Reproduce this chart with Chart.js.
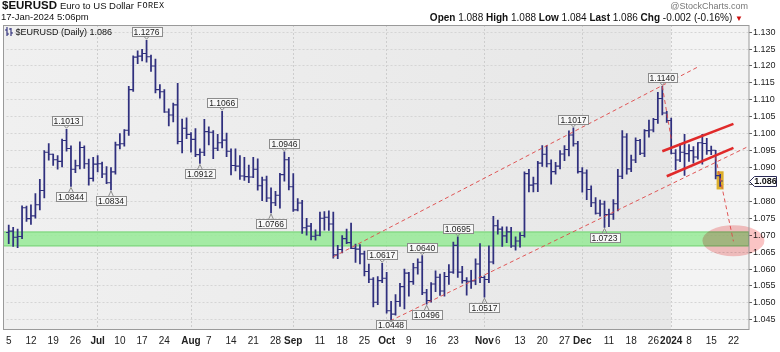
<!DOCTYPE html>
<html>
<head>
<meta charset="utf-8">
<title>$EURUSD</title>
<script src="https://cdn.jsdelivr.net/npm/chart.js@4.4.1/dist/chart.umd.min.js"></script>
<style>
  html, body { margin: 0; padding: 0; background: #fff; }
  #wrap { position: relative; width: 780px; height: 352px; overflow: hidden; font-family: 'Liberation Sans', Arial, sans-serif; color: #111; }
  #chart { position: absolute; left: 0; top: 0; }
  .txt { position: absolute; white-space: nowrap; line-height: 1; }
  .txt b { font-weight: bold; }
</style>
</head>
<body>
<div id="wrap">
  <canvas id="chart" width="780" height="352"></canvas>
  <div class="txt" style="left:2px;top:0px;font-size:11.5px;font-weight:bold;">$EURUSD</div>
  <div class="txt" style="left:60px;top:1px;font-size:9.5px;">Euro to US Dollar</div>
  <div class="txt" style="left:137px;top:2px;font-size:8.5px;font-family:'Liberation Mono',monospace;letter-spacing:0.4px;">FOREX</div>
  <div class="txt" style="left:1px;top:12px;font-size:9.5px;">17-Jan-2024 5:06pm</div>
  <div class="txt" style="right:32px;top:2px;font-size:9px;color:#777;">@StockCharts.com</div>
  <div class="txt" style="right:37px;top:13px;font-size:10px;"><b>Open</b> 1.088 <b>High</b> 1.088 <b>Low</b> 1.084 <b>Last</b> 1.086 <b>Chg</b> -0.002 (-0.16%) <span style="color:#cc1111;font-size:8px;">&#9660;</span></div>
  <div class="txt" style="left:5px;top:27px;font-size:9px;"><svg width="8" height="9" style="vertical-align:-1px"><path d="M2 0v9M0 3h2M2 7h2M6 1v8M4 2h2M6 6h2" stroke="#2a2a78" stroke-width="1.1" fill="none"/></svg> $EURUSD (Daily) 1.086</div>
</div>
<script>
// trading days shown on the axis (Jun 5 2023 .. Jan 25 2024)
const dates = [
  '6/5','6/6','6/7','6/8','6/9','6/12','6/13','6/14','6/15','6/16','6/19','6/20','6/21','6/22','6/23','6/26','6/27','6/28','6/29','6/30',
  '7/3','7/4','7/5','7/6','7/7','7/10','7/11','7/12','7/13','7/14','7/17','7/18','7/19','7/20','7/21','7/24','7/25','7/26','7/27','7/28','7/31',
  '8/1','8/2','8/3','8/4','8/7','8/8','8/9','8/10','8/11','8/14','8/15','8/16','8/17','8/18','8/21','8/22','8/23','8/24','8/25','8/28','8/29','8/30','8/31',
  '9/1','9/4','9/5','9/6','9/7','9/8','9/11','9/12','9/13','9/14','9/15','9/18','9/19','9/20','9/21','9/22','9/25','9/26','9/27','9/28','9/29',
  '10/2','10/3','10/4','10/5','10/6','10/9','10/10','10/11','10/12','10/13','10/16','10/17','10/18','10/19','10/20','10/23','10/24','10/25','10/26','10/27','10/30','10/31',
  '11/1','11/2','11/3','11/6','11/7','11/8','11/9','11/10','11/13','11/14','11/15','11/16','11/17','11/20','11/21','11/22','11/23','11/24','11/27','11/28','11/29','11/30',
  '12/1','12/4','12/5','12/6','12/7','12/8','12/11','12/12','12/13','12/14','12/15','12/18','12/19','12/20','12/21','12/22','12/26','12/27','12/28','12/29',
  '1/2','1/3','1/4','1/5','1/8','1/9','1/10','1/11','1/12','1/15','1/16','1/17','1/18','1/19','1/22','1/23','1/24','1/25'
];

const openP = [
  1.0708,1.0712,1.0694,1.0696,1.0781,1.0749,1.0757,1.0790,1.0832,1.0945,1.0939,1.0923,1.0918,1.0980,1.0956,1.0895,1.0905,1.0959,1.0911,1.0868,
  1.0910,1.0911,1.0881,1.0855,1.0887,1.0967,1.0970,1.1010,1.1130,1.1226,1.1229,1.1237,1.1227,1.1200,1.1130,1.1124,1.1064,1.1055,1.1085,1.0977,1.1016,
  1.0998,1.0983,1.0938,1.0945,1.1006,1.1004,1.0957,1.0973,1.0981,1.0948,1.0906,1.0904,1.0875,1.0873,1.0872,1.0895,1.0846,1.0863,1.0810,1.0796,1.0818,1.0879,1.0923,
  1.0843,1.0775,1.0795,1.0722,1.0727,1.0697,1.0700,1.0750,1.0753,1.0733,1.0642,1.0658,1.0690,1.0678,1.0661,1.0659,1.0645,1.0593,1.0570,1.0502,1.0566,
  1.0573,1.0477,1.0467,1.0504,1.0548,1.0588,1.0563,1.0604,1.0620,1.0530,1.0507,1.0556,1.0576,1.0535,1.0578,1.0591,1.0670,1.0591,1.0566,1.0564,1.0565,1.0615,
  1.0575,1.0569,1.0621,1.0728,1.0718,1.0698,1.0710,1.0668,1.0683,1.0699,1.0882,1.0848,1.0852,1.0913,1.0939,1.0911,1.0888,1.0904,1.0940,1.0953,1.0996,1.0970,
  1.0888,1.0884,1.0835,1.0796,1.0765,1.0792,1.0761,1.0762,1.0793,1.0874,1.0990,1.0896,1.0922,1.0980,1.0942,1.1009,1.1011,1.1042,1.1104,1.1061,
  1.1039,1.0942,1.0922,1.0945,1.0941,1.0950,1.0931,1.0973,1.0971,1.0950,1.0951,1.0876
];
const highP = [
  1.0730,1.0723,1.0718,1.0787,1.0786,1.0790,1.0823,1.0865,1.0950,1.0971,1.0940,1.0935,1.0984,1.1013,1.0964,1.0922,1.0976,1.0964,1.0925,1.0930,
  1.0935,1.0916,1.0903,1.0900,1.0975,1.1000,1.1012,1.1140,1.1230,1.1245,1.1249,1.1276,1.1232,1.1220,1.1145,1.1130,1.1073,1.1090,1.1149,1.1043,1.1047,
  1.1003,1.1015,1.0955,1.1042,1.1020,1.1009,1.0998,1.1066,1.1002,1.0955,1.0955,1.0935,1.0930,1.0907,1.0930,1.0926,1.0872,1.0875,1.0840,1.0830,1.0883,1.0946,1.0930,
  1.0882,1.0808,1.0803,1.0750,1.0735,1.0716,1.0768,1.0770,1.0772,1.0768,1.0670,1.0699,1.0718,1.0736,1.0674,1.0672,1.0653,1.0615,1.0575,1.0578,1.0617,
  1.0590,1.0505,1.0525,1.0558,1.0600,1.0590,1.0617,1.0630,1.0640,1.0540,1.0560,1.0595,1.0585,1.0590,1.0613,1.0680,1.0695,1.0608,1.0575,1.0596,1.0630,1.0675,
  1.0580,1.0669,1.0756,1.0745,1.0725,1.0725,1.0723,1.0695,1.0708,1.0887,1.0895,1.0872,1.0918,1.0965,1.0965,1.0923,1.0915,1.0950,1.0965,1.1008,1.1017,1.0977,
  1.0900,1.0893,1.0846,1.0811,1.0804,1.0801,1.0777,1.0805,1.0895,1.1009,1.1000,1.0937,1.0988,1.0983,1.1012,1.1040,1.1045,1.1122,1.1140,1.1066,
  1.1046,1.0953,1.0970,1.0998,1.0968,1.0962,1.0974,1.0998,1.0986,1.0963,1.0951,1.0880
];
const lowP = [
  1.0675,1.0667,1.0663,1.0690,1.0741,1.0732,1.0750,1.0775,1.0810,1.0922,1.0906,1.0895,1.0902,1.0948,1.0844,1.0885,1.0896,1.0897,1.0848,1.0860,
  1.0887,1.0870,1.0852,1.0834,1.0880,1.0955,1.0963,1.0995,1.1125,1.1207,1.1215,1.1211,1.1184,1.1120,1.1105,1.1063,1.1023,1.1035,1.0970,1.0943,1.0985,
  1.0945,1.0932,1.0912,1.0935,1.0967,1.0926,1.0950,1.0958,1.0932,1.0878,1.0890,1.0865,1.0862,1.0855,1.0870,1.0833,1.0802,1.0799,1.0766,1.0787,1.0780,1.0860,1.0834,
  1.0770,1.0772,1.0705,1.0700,1.0686,1.0685,1.0698,1.0715,1.0714,1.0632,1.0631,1.0648,1.0675,1.0660,1.0620,1.0615,1.0580,1.0560,1.0488,1.0495,1.0560,
  1.0470,1.0448,1.0464,1.0490,1.0482,1.0520,1.0555,1.0585,1.0524,1.0496,1.0502,1.0533,1.0522,1.0520,1.0555,1.0587,1.0575,1.0558,1.0523,1.0543,1.0554,1.0560,
  1.0517,1.0560,1.0615,1.0703,1.0667,1.0678,1.0664,1.0656,1.0665,1.0694,1.0828,1.0828,1.0829,1.0903,1.0902,1.0851,1.0880,1.0896,1.0920,1.0934,1.0963,1.0883,
  1.0827,1.0805,1.0784,1.0762,1.0756,1.0723,1.0725,1.0747,1.0772,1.0867,1.0880,1.0888,1.0914,1.0938,1.0932,1.0990,1.1005,1.1030,1.1055,1.1033,
  1.0940,1.0893,1.0917,1.0877,1.0918,1.0913,1.0925,1.0910,1.0939,1.0938,1.0866,1.0844
];
const closeP = [
  1.0712,1.0694,1.0696,1.0781,1.0749,1.0757,1.0790,1.0832,1.0945,1.0939,1.0923,1.0918,1.0980,1.0956,1.0895,1.0905,1.0959,1.0911,1.0868,1.0910,
  1.0911,1.0881,1.0855,1.0887,1.0967,1.0970,1.1010,1.1130,1.1226,1.1229,1.1237,1.1227,1.1200,1.1130,1.1124,1.1064,1.1055,1.1085,1.0977,1.1016,1.0998,
  1.0983,1.0938,1.0945,1.1006,1.1004,1.0957,1.0973,1.0981,1.0948,1.0906,1.0904,1.0875,1.0873,1.0872,1.0895,1.0846,1.0863,1.0810,1.0796,1.0818,1.0879,1.0923,1.0843,
  1.0775,1.0795,1.0722,1.0727,1.0697,1.0700,1.0750,1.0753,1.0733,1.0642,1.0658,1.0690,1.0678,1.0661,1.0659,1.0645,1.0593,1.0570,1.0502,1.0566,1.0573,
  1.0477,1.0467,1.0504,1.0548,1.0588,1.0563,1.0604,1.0620,1.0530,1.0507,1.0556,1.0576,1.0535,1.0578,1.0591,1.0670,1.0591,1.0566,1.0564,1.0565,1.0615,1.0575,
  1.0569,1.0621,1.0728,1.0718,1.0698,1.0710,1.0668,1.0683,1.0699,1.0882,1.0848,1.0852,1.0913,1.0939,1.0911,1.0888,1.0904,1.0940,1.0953,1.0996,1.0970,1.0888,
  1.0884,1.0835,1.0796,1.0765,1.0792,1.0761,1.0762,1.0793,1.0874,1.0990,1.0896,1.0922,1.0980,1.0942,1.1009,1.1011,1.1042,1.1104,1.1061,1.1039,
  1.0942,1.0922,1.0945,1.0941,1.0950,1.0931,1.0973,1.0971,1.0950,1.0951,1.0876,1.0860
];

// axis labels
const xTickLabels = {
  '6/5':'5','6/12':'12','6/19':'19','6/26':'26','7/3':'Jul','7/10':'10','7/17':'17','7/24':'24',
  '8/1':'Aug','8/7':'7','8/14':'14','8/21':'21','8/28':'28','9/1':'Sep','9/11':'11','9/18':'18','9/25':'25',
  '10/2':'Oct','10/9':'9','10/16':'16','10/23':'23','11/1':'Nov','11/6':'6','11/13':'13','11/20':'20','11/27':'27',
  '12/1':'Dec','12/11':'11','12/18':'18','12/26':'26','1/2':'2024','1/8':'8','1/15':'15','1/22':'22'
};
const monthStarts = ['7/3','8/1','9/1','10/2','11/1','12/1','1/2'];
const yearStart = '1/2';
const yTicks = [1.045,1.050,1.055,1.060,1.065,1.070,1.075,1.080,1.085,1.090,1.095,1.100,1.105,1.110,1.115,1.120,1.125,1.130];
const yMin = 1.0420, yMax = 1.1321;

// annotations drawn on the chart
const swingLabels = [
  ['6/22',1.1013,'high'],['6/23',1.0844,'low'],['7/6',1.0834,'low'],['7/18',1.1276,'high'],
  ['8/3',1.0912,'low'],['8/10',1.1066,'high'],['8/25',1.0766,'low'],['8/30',1.0946,'high'],
  ['9/29',1.0617,'high'],['10/3',1.0448,'low'],['10/12',1.0640,'high'],['10/13',1.0496,'low'],
  ['10/24',1.0695,'high'],['11/1',1.0517,'low'],['11/29',1.1017,'high'],['12/8',1.0723,'low'],
  ['12/28',1.1140,'high']
];
const supportBand = [1.0667, 1.0711];
const upperChannel = [['9/14',1.0636],['1/10',1.1197]];
const lowerChannel = [['9/28',1.0429],['1/25',1.0960]];
const flagTop = [['12/28',1.0948],['1/22',1.1029]];
const flagBottom = [['12/29',1.0874],['1/22',1.0958]];
const peakDrop = [['12/28',1.1140],['1/2',1.0985]];
const projection = [['1/16',1.0930],['1/22',1.0682]];
const target = ['1/22', 1.0684];

const fontFamily = "'Liberation Sans', Arial, sans-serif";
const barColor = '#30307e';
const idx = d => dates.indexOf(d);
const monthIdx = new Set(monthStarts.map(idx));
const lastIdx = closeP.length - 1;

function drawSeg(ctx, x, y, seg) {
  ctx.beginPath();
  ctx.moveTo(x.getPixelForValue(idx(seg[0][0])), y.getPixelForValue(seg[0][1]));
  ctx.lineTo(x.getPixelForValue(idx(seg[1][0])), y.getPixelForValue(seg[1][1]));
  ctx.stroke();
}

const extras = {
  id: 'extras',
  beforeDraw(chart) {
    const { ctx, chartArea: a, scales: { x } } = chart;
    const split = x.getPixelForValue(idx(yearStart));
    ctx.save();
    const g = ctx.createLinearGradient(3, 0, split, 0);
    g.addColorStop(0, '#f0f0f0');
    g.addColorStop(1, '#e7e7e7');
    ctx.fillStyle = g;
    ctx.fillRect(3, a.top, split - 3, a.bottom - a.top);
    ctx.fillStyle = '#f3f3f3';
    ctx.fillRect(split, a.top, a.right - split, a.bottom - a.top);
    ctx.restore();
  },
  beforeDatasetsDraw(chart) {
    const { ctx, chartArea: a, scales: { x, y } } = chart;
    ctx.save();
    // support zone
    const y1 = y.getPixelForValue(supportBand[1]), y2 = y.getPixelForValue(supportBand[0]);
    ctx.fillStyle = 'rgba(150,234,150,0.85)';
    ctx.fillRect(3, y1, a.right - 3, y2 - y1);
    ctx.strokeStyle = 'rgba(100,200,100,0.7)';
    ctx.lineWidth = 1;
    ctx.strokeRect(3.5, y1 + 0.5, a.right - 4, y2 - y1 - 1);
    // last bar highlight
    const lx = x.getPixelForValue(lastIdx);
    const hy = y.getPixelForValue(highP[lastIdx]) - 3, ly = y.getPixelForValue(lowP[lastIdx]) + 3;
    ctx.fillStyle = '#dcae2c';
    ctx.fillRect(lx - 3.5, hy, 7, ly - hy);
    ctx.restore();
  },
  afterDatasetsDraw(chart) {
    const { ctx, chartArea: a, scales: { x, y } } = chart;
    ctx.save();
    // open / close ticks
    ctx.strokeStyle = barColor;
    ctx.lineWidth = 1.1;
    ctx.beginPath();
    openP.forEach((o, i) => {
      const px = x.getPixelForValue(i);
      const oy = y.getPixelForValue(o), cy = y.getPixelForValue(closeP[i]);
      ctx.moveTo(px - 2.6, oy); ctx.lineTo(px, oy);
      ctx.moveTo(px, cy); ctx.lineTo(px + 2.6, cy);
    });
    ctx.stroke();

    // target ellipse
    ctx.globalCompositeOperation = 'multiply';
    ctx.fillStyle = 'rgb(250,196,196)';
    ctx.beginPath();
    ctx.ellipse(x.getPixelForValue(idx(target[0])), y.getPixelForValue(target[1]), 31, 15.5, 0, 0, Math.PI * 2);
    ctx.fill();
    ctx.globalCompositeOperation = 'source-over';

    // dashed trend lines
    ctx.strokeStyle = 'rgba(222,70,70,0.9)';
    ctx.lineWidth = 1;
    ctx.setLineDash([4, 3]);
    [upperChannel, lowerChannel, peakDrop, projection].forEach(s => drawSeg(ctx, x, y, s));
    ctx.setLineDash([]);

    // flag
    ctx.strokeStyle = '#e02a2a';
    ctx.lineWidth = 2.6;
    [flagTop, flagBottom].forEach(s => drawSeg(ctx, x, y, s));

    // swing labels
    ctx.font = '8.5px ' + fontFamily;
    ctx.textAlign = 'center';
    ctx.textBaseline = 'middle';
    ctx.lineWidth = 1;
    swingLabels.forEach(([d, v, side]) => {
      const px = x.getPixelForValue(idx(d));
      const py = y.getPixelForValue(v);
      const text = v.toFixed(4);
      const w = Math.round(ctx.measureText(text).width + 4), h = 9;
      let top = side === 'high' ? py - 4 - h : py + 6;
      top = Math.min(top, a.bottom - h - 1);
      top = Math.round(top) + 0.5;
      const left = Math.round(px - w / 2) + 0.5;
      ctx.fillStyle = '#f8f8f8';
      ctx.fillRect(left, top, w, h);
      ctx.strokeStyle = '#8c8c8c';
      ctx.strokeRect(left, top, w, h);
      ctx.beginPath();
      if (side === 'high') {
        ctx.moveTo(px - 2.5, top + h); ctx.lineTo(px, py - 1); ctx.lineTo(px + 2.5, top + h);
      } else {
        ctx.moveTo(px - 2.5, top); ctx.lineTo(px, py + 1); ctx.lineTo(px + 2.5, top);
      }
      ctx.stroke();
      ctx.fillStyle = '#222';
      ctx.fillText(text, px, top + h / 2 + 0.5);
    });
    ctx.restore();
  },
  afterDraw(chart) {
    const { ctx, chartArea: a, scales: { y } } = chart;
    ctx.save();
    ctx.strokeStyle = '#9a9a9a';
    ctx.lineWidth = 1;
    ctx.strokeRect(3.5, a.top + 0.5, a.right - 3.5, a.bottom - a.top - 1);
    // last price tag
    const ty = Math.round(y.getPixelForValue(closeP[lastIdx])) + 0.5;
    const tx = a.right + 0.5;
    ctx.beginPath();
    ctx.moveTo(tx, ty);
    ctx.lineTo(tx + 5, ty - 5);
    ctx.lineTo(tx + 27, ty - 5);
    ctx.lineTo(tx + 27, ty + 5);
    ctx.lineTo(tx + 5, ty + 5);
    ctx.closePath();
    ctx.fillStyle = '#fff';
    ctx.fill();
    ctx.strokeStyle = '#2a2a55';
    ctx.stroke();
    ctx.fillStyle = '#111';
    ctx.font = 'bold 9px ' + fontFamily;
    ctx.textAlign = 'center';
    ctx.textBaseline = 'middle';
    ctx.fillText(closeP[lastIdx].toFixed(3), tx + 16, ty + 0.5);
    ctx.restore();
  }
};

new Chart(document.getElementById('chart'), {
  type: 'bar',
  data: {
    labels: dates,
    datasets: [{
      label: '$EURUSD',
      data: highP.map((h, i) => [lowP[i], h]),
      backgroundColor: barColor,
      borderWidth: 0,
      barThickness: 1.1
    }]
  },
  options: {
    responsive: false,
    animation: false,
    events: [],
    layout: { padding: { left: 6.5, top: 25, right: 0, bottom: 0 } },
    plugins: { legend: { display: false }, tooltip: { enabled: false } },
    scales: {
      x: {
        offset: true,
        afterFit: s => { s.height = 22; },
        grid: {
          offset: false,
          drawTicks: false,
          color: c => monthIdx.has(c.index) ? '#cdcdcd' : 'rgba(0,0,0,0)'
        },
        border: { display: false, dash: [2, 2] },
        ticks: {
          autoSkip: false,
          maxRotation: 0,
          minRotation: 0,
          padding: 5,
          color: '#222',
          font: c => ({ family: fontFamily, size: 10, weight: monthIdx.has(c.index) ? 'bold' : 'normal' }),
          callback: (v, i) => xTickLabels[dates[i]] || ''
        }
      },
      y: {
        position: 'right',
        min: yMin,
        max: yMax,
        afterBuildTicks: s => { s.ticks = yTicks.map(v => ({ value: v })); },
        afterFit: s => { s.width = 31; },
        grid: { color: '#d5d5d5', lineWidth: 1, drawTicks: true, tickLength: 3, tickColor: '#666', tickBorderDash: [] },
        border: { display: false, dash: [2, 2] },
        ticks: {
          padding: 1,
          color: '#222',
          font: { family: fontFamily, size: 9 },
          callback: v => Math.abs(v - closeP[lastIdx]) < 0.003 ? '' : v.toFixed(3)
        }
      }
    }
  },
  plugins: [extras]
});
</script>
</body>
</html>
